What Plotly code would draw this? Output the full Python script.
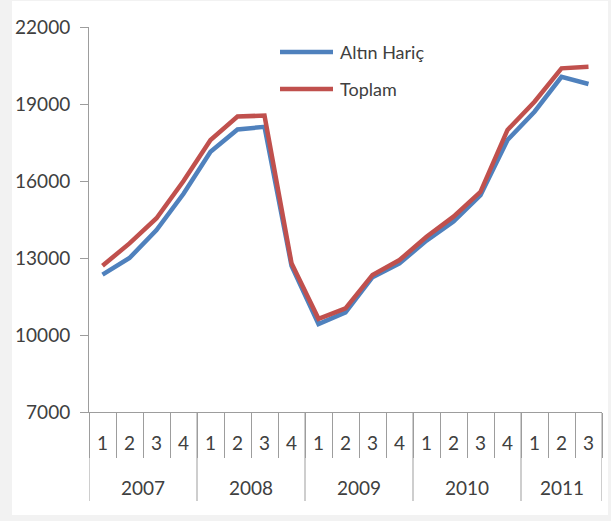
import plotly.graph_objects as go

# Quarterly data 2007Q1 - 2011Q3
years = ["2007", "2008", "2009", "2010", "2011"]
quarters = ["1", "2", "3", "4"] * 4 + ["1", "2", "3"]
periods = [f"{y}-{q}" for y in years for q in ["1", "2", "3", "4"]][:19]

altin_haric = [12350, 13000, 14090, 15500, 17140, 18010, 18110, 12700,
               10430, 10880, 12250, 12790, 13680, 14420, 15450, 17600,
               18700, 20060, 19780]
toplam = [12700, 13570, 14550, 16000, 17600, 18510, 18550, 12800,
          10630, 11040, 12340, 12920, 13830, 14610, 15580, 17990,
          19090, 20390, 20450]

blue = "#4f81bd"
red = "#c0504d"
axis_grey = "#9d9d9d"
text_col = "#404040"
font_family = "Lato"

fig = go.Figure()
fig.add_trace(go.Scatter(x=periods, y=altin_haric, mode="lines",
                         name="Altın Hariç", line=dict(color=blue, width=4.5)))
fig.add_trace(go.Scatter(x=periods, y=toplam, mode="lines",
                         name="Toplam", line=dict(color=red, width=4.5)))

# pixel -> paper coords helpers (plot area 89..602 x 27..412)
pw, ph = 513, 385
def px_x(p):
    return (p - 89) / pw
def px_y(p):
    return (412 - p) / ph

# white card behind the chart
fig.add_shape(type="rect", xref="paper", yref="paper",
              x0=px_x(12), x1=px_x(608), y0=px_y(515), y1=px_y(1),
              fillcolor="white", line=dict(width=0), layer="below")

# legend drawn by hand as in the original
for label, col, yy in [("Altın Hariç", blue, 52), ("Toplam", red, 89)]:
    fig.add_shape(type="line", xref="paper", yref="paper",
                  x0=px_x(280), x1=px_x(333), y0=px_y(yy), y1=px_y(yy),
                  line=dict(color=col, width=4.5))
    fig.add_annotation(text=label, xref="paper", yref="paper",
                       x=px_x(338), y=px_y(yy), xanchor="left", yanchor="middle",
                       showarrow=False, font=dict(family=font_family, size=18, color=text_col))

# two-level category labels: quarters and years
for i, q in enumerate(quarters):
    fig.add_annotation(text=q, xref="x", yref="paper", x=i, y=px_y(442),
                       xanchor="center", yanchor="middle", showarrow=False,
                       font=dict(family=font_family, size=19, color=text_col))
start = 0
for y in years:
    n = quarters[start:].index("4") + 1 if "4" in quarters[start:] else len(quarters) - start
    fig.add_annotation(text=y, xref="x", yref="paper", x=start + (n - 1) / 2, y=px_y(487),
                       xanchor="center", yanchor="middle", showarrow=False,
                       font=dict(family=font_family, size=19, color=text_col))
    # year separator
    fig.add_shape(type="line", xref="x", yref="paper", x0=start - 0.5, x1=start - 0.5,
                  y0=px_y(412), y1=px_y(501), line=dict(color=axis_grey, width=1))
    start += n
fig.add_shape(type="line", xref="x", yref="paper", x0=start - 0.5, x1=start - 0.5,
              y0=px_y(412), y1=px_y(501), line=dict(color=axis_grey, width=1))

fig.update_xaxes(type="category", range=[-0.5, len(periods) - 0.5],
                 showline=True, linecolor=axis_grey, linewidth=1,
                 ticks="outside", tickson="boundaries", ticklen=45, tickcolor=axis_grey,
                 showticklabels=False, showgrid=False)
fig.update_yaxes(range=[7000, 22000], tickvals=[7000, 10000, 13000, 16000, 19000, 22000],
                 tickformat="d", showline=True, linecolor=axis_grey, linewidth=1,
                 ticks="outside", ticklen=8, tickcolor=axis_grey, ticklabelstandoff=6,
                 showgrid=False, zeroline=False,
                 tickfont=dict(family=font_family, size=19, color=text_col))

fig.update_layout(width=611, height=521, showlegend=False,
                  margin=dict(l=89, r=9, t=27, b=109, autoexpand=False),
                  paper_bgcolor="#f2f2f2", plot_bgcolor="white",
                  font=dict(family=font_family, color=text_col))

fig.write_html("out.html", config={"displayModeBar": False},
               post_script="document.body.style.margin='0';")
